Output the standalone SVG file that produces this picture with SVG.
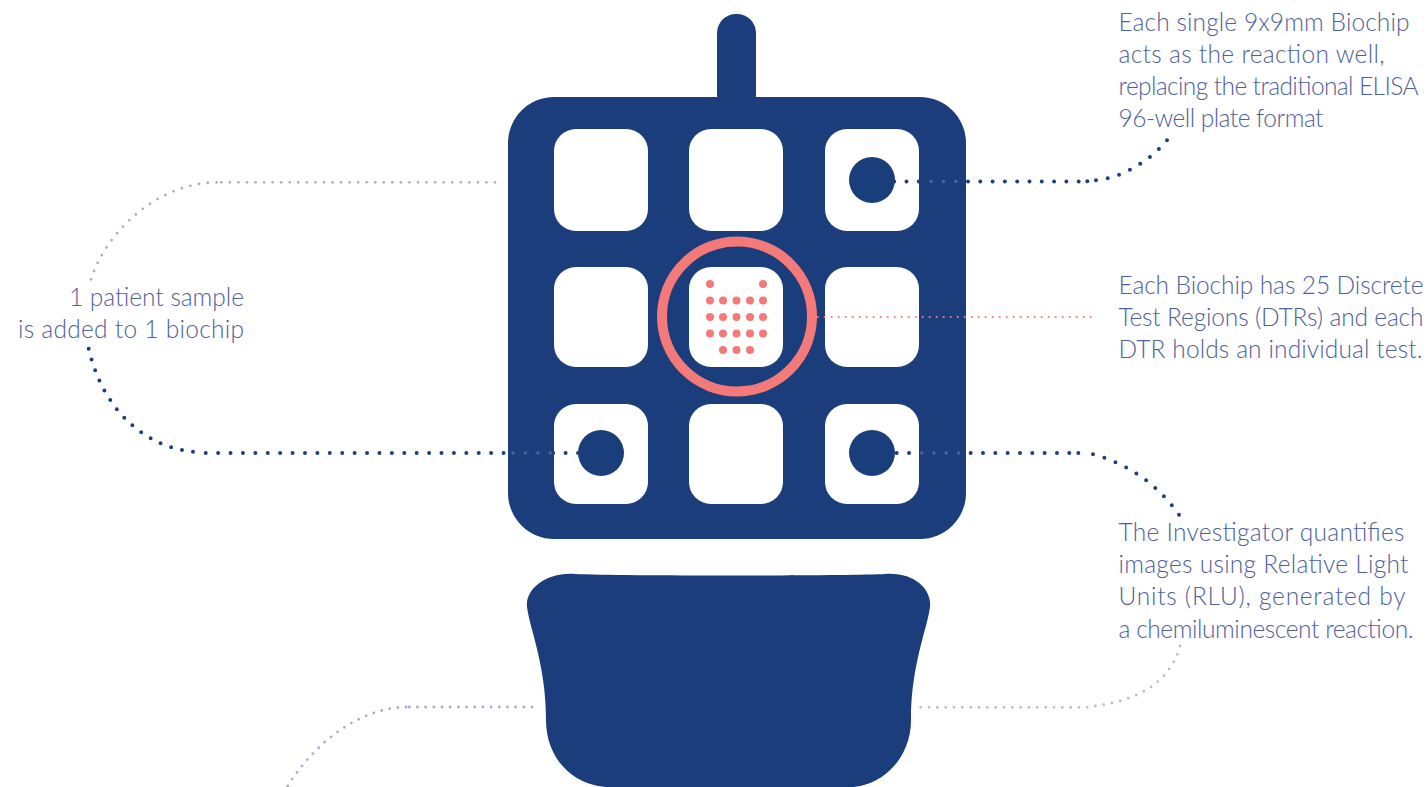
<svg xmlns="http://www.w3.org/2000/svg" width="1428" height="787" viewBox="0 0 1428 787">
<style>
.navy{fill:#1a3e7c}
.well{fill:#fff}
.soft{filter:url(#soft)}
.t{font-family:"Lato","Liberation Sans",sans-serif;font-weight:300;font-size:24.5px;fill:#4f6199}
.c{fill:none;stroke-linecap:round}
.dark{stroke:#1f3f7d;stroke-width:4;stroke-dasharray:0 1}
.light{stroke:#a9adcb;stroke-width:2.800;stroke-dasharray:0 1}
.faint{stroke:#b9bbd6;stroke-width:2.800;stroke-dasharray:0 1}
.fade{fill:#4a659a}
.pink{stroke:#f47a7a;stroke-width:2.200;stroke-dasharray:0 7}
.dot{fill:#1f3f7d}
.d{fill:#f47a7a}
</style>
<defs><filter id="soft" x="-2%" y="-2%" width="104%" height="104%"><feGaussianBlur stdDeviation="0.7"/></filter></defs>
<rect width="1428" height="787" fill="#fff"/>
<g id="cartridge" class="soft">
<rect class="navy" x="717" y="14" width="39" height="100" rx="19"/>
<rect class="navy" x="508" y="97" width="458" height="442" rx="46"/>
<rect class="well" x="554" y="129" width="94" height="102" rx="22"/>
<rect class="well" x="689" y="129" width="94" height="102" rx="22"/>
<rect class="well" x="825" y="129" width="94" height="102" rx="22"/>
<rect class="well" x="554" y="267" width="94" height="100" rx="22"/>
<rect class="well" x="689" y="267" width="94" height="100" rx="22"/>
<rect class="well" x="825" y="267" width="94" height="100" rx="22"/>
<rect class="well" x="554" y="404" width="94" height="100" rx="22"/>
<rect class="well" x="689" y="404" width="94" height="100" rx="22"/>
<rect class="well" x="825" y="404" width="94" height="100" rx="22"/>
</g>
<g id="base" class="soft">
<path class="navy" d="M575 574C620 576 850 576 885 574C915 572 932 590 930 607C927 630 911 665 911 720C911 760 880 787 850 787L610 787C575 787 546 760 546 720C546 665 530 630 527 607C525 590 545 572 575 574Z"/>
</g>
<g id="biochips">
<circle class="navy" cx="872" cy="180" r="23"/>
<circle class="navy" cx="601" cy="453" r="23"/>
<circle class="navy" cx="872" cy="453" r="23"/>
</g>
<g id="connectors">
<path class="c dark" pathLength="15.001" d="M894.200 181.500H1078.700"/>
<path class="c dark" pathLength="7.001" d="M1096 180.300C1120 178 1148 163 1167 140.300"/>
<circle class="dot" cx="1087.300" cy="181.200" r="2"/>
<path class="c light" pathLength="32.001" d="M495 182.300H221.300"/>
<path class="c light" pathLength="19.001" d="M216.700 182.300C160 183 108 228 91 279.300"/>
<path class="c dark" pathLength="30.001" d="M578 453H205.700"/>
<path class="c dark" pathLength="14.001" d="M193 451.700C150 448 104 415 88.700 348.700"/>
<path class="c dark" pathLength="14.001" d="M896.700 453H1069.300"/>
<circle class="dot" cx="1078.300" cy="453" r="2"/>
<path class="c dark" pathLength="9.001" d="M1093 454.300C1120 461 1155 480 1179 514.700"/>
<path class="c light" pathLength="15.001" d="M532 707H409.300"/>
<path class="c light" pathLength="18.001" d="M406 707C360 708 315 742 287.700 786"/>
<path class="c faint" pathLength="20.001" d="M920.700 707.300H1087.300"/>
<path class="c faint" pathLength="13.001" d="M1095.300 706C1125 702 1168 690 1180 646"/>
<path class="c pink" d="M817.700 317H1092"/>
<g class="fade">
<circle cx="931" cy="181.500" r="1.700"/><circle cx="943.400" cy="181.500" r="1.700"/><circle cx="955.700" cy="181.500" r="1.700"/>
<circle cx="921.700" cy="453" r="1.700"/><circle cx="934" cy="453" r="1.700"/><circle cx="946.300" cy="453" r="1.700"/><circle cx="958.600" cy="453" r="1.700"/>
<circle cx="513" cy="453" r="1.700"/><circle cx="525.400" cy="453" r="1.700"/><circle cx="537.800" cy="453" r="1.700"/><circle cx="550.200" cy="453" r="1.700"/>
</g>
</g>
<g id="dtr-highlight">
<circle cx="737" cy="316.500" r="75" fill="none" stroke="#f47a7a" stroke-width="10"/>
<g class="d">
<circle cx="710" cy="284" r="4"/><circle cx="763" cy="284" r="4"/>
<circle cx="710" cy="300.500" r="4"/><circle cx="723" cy="300.500" r="4"/><circle cx="736.500" cy="300.500" r="4"/><circle cx="750" cy="300.500" r="4"/><circle cx="763" cy="300.500" r="4"/>
<circle cx="710" cy="317" r="4"/><circle cx="723" cy="317" r="4"/><circle cx="736.500" cy="317" r="4"/><circle cx="750" cy="317" r="4"/><circle cx="763" cy="317" r="4"/>
<circle cx="710" cy="333.500" r="4"/><circle cx="723" cy="333.500" r="4"/><circle cx="736.500" cy="333.500" r="4"/><circle cx="750" cy="333.500" r="4"/><circle cx="763" cy="333.500" r="4"/>
<circle cx="723" cy="350" r="4"/><circle cx="736.500" cy="350" r="4"/><circle cx="750" cy="350" r="4"/>
</g>
</g>
<g id="label-sample" class="t">
<text x="69" y="306" textLength="175">1 patient sample</text>
<text x="18" y="338" textLength="226">is added to 1 biochip</text>
</g>
<g id="label-biochip" class="t">
<text x="1118.500" y="31" textLength="291">Each single 9x9mm Biochip</text>
<text x="1118.500" y="63" textLength="266">acts as the reaction well,</text>
<text x="1118.500" y="95" textLength="300">replacing the traditional ELISA</text>
<text x="1118.500" y="127" textLength="205">96-well plate format</text>
</g>
<g id="label-dtr" class="t">
<text x="1118.500" y="294" textLength="305">Each Biochip has 25 Discrete</text>
<text x="1118.500" y="326" textLength="305">Test Regions (DTRs) and each</text>
<text x="1118.500" y="358" textLength="304">DTR holds an individual test.</text>
</g>
<g id="label-rlu" class="t">
<text x="1118.500" y="541" textLength="286">The Investigator quantifies</text>
<text x="1118.500" y="573" textLength="290">images using Relative Light</text>
<text x="1118.500" y="605" textLength="287">Units (RLU), generated by</text>
<text x="1118.500" y="638" textLength="295">a chemiluminescent reaction.</text>
</g>
</svg>
